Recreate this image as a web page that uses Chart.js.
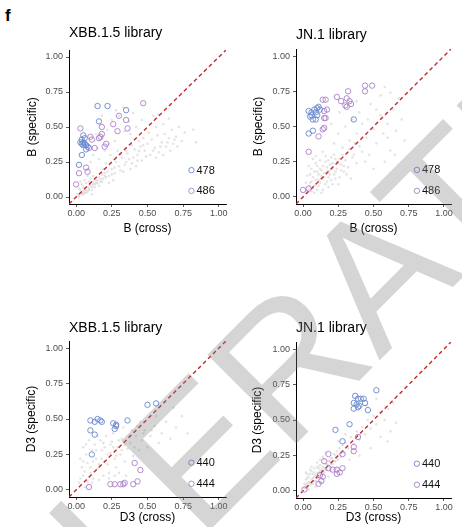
<!DOCTYPE html>
<html>
<head>
<meta charset="utf-8">
<script src="https://cdn.jsdelivr.net/npm/chart.js@4.4.1/dist/chart.umd.min.js"></script>
<style>
  body { margin: 0; background: #fff; }
  #wrap { position: relative; width: 462px; height: 527px; overflow: hidden; }
  #wrap canvas { position: absolute; }
  #tag { position: absolute; left: 5px; top: 6px; font: bold 17px "Liberation Sans", Arial, sans-serif; color: #000; }
</style>
</head>
<body>
<div id="wrap">
  <div id="tag">f</div>
  <canvas id="c1" width="231" height="263" style="left:0;top:0"></canvas>
  <canvas id="c2" width="231" height="263" style="left:231px;top:0"></canvas>
  <canvas id="c3" width="231" height="264" style="left:0;top:263px"></canvas>
  <canvas id="c4" width="231" height="264" style="left:231px;top:263px"></canvas>
  <canvas id="wm" width="462" height="527" style="left:0;top:0;pointer-events:none"></canvas>
</div>
<script>
// shared axis ticks
const tickValues = [0, 0.25, 0.5, 0.75, 1];
const tickLabels = ['0.00', '0.25', '0.50', '0.75', '1.00'];
const diagonal = [-0.05, 1.05];

// B epitope, XBB.1.5 library: [cross, specific]
const xbbB_478 = [[0.15,0.65],[0.22,0.65],[0.35,0.62],[0.16,0.54],[0.05,0.44],[0.04,0.41],[0.03,0.39],[0.05,0.39],
  [0.06,0.38],[0.05,0.37],[0.07,0.37],[0.08,0.36],[0.07,0.34],[0.04,0.30],[0.02,0.23],[0.06,0.42],[0.04,0.38]];
const xbbB_486 = [[0.47,0.67],[0.30,0.58],[0.35,0.55],[0.26,0.52],[0.18,0.50],[0.36,0.49],[0.29,0.47],[0.03,0.49],
  [0.10,0.43],[0.11,0.41],[0.17,0.43],[0.16,0.42],[0.21,0.38],[0.20,0.36],[0.09,0.35],[0.13,0.35],[0.07,0.21],
  [0.08,0.18],[0.02,0.17],[0.00,0.09],[0.18,0.45]];
const xbbB_all = [[0.01,0.02],[0.02,0.01],[0.03,0.03],[0.04,0.02],[0.05,0.04],[0.03,0.05],[0.06,0.03],[0.07,0.05],
  [0.08,0.04],[0.02,0.06],[0.05,0.07],[0.09,0.06],[0.10,0.08],[0.04,0.09],[0.07,0.10],[0.11,0.05],[0.12,0.09],
  [0.13,0.07],[0.06,0.12],[0.09,0.11],[0.14,0.10],[0.15,0.12],[0.10,0.13],[0.08,0.15],[0.16,0.08],[0.17,0.13],
  [0.12,0.15],[0.18,0.11],[0.03,0.11],[0.11,0.02],[0.20,0.15],[0.22,0.18],[0.25,0.20],[0.21,0.24],[0.27,0.17],
  [0.28,0.25],[0.30,0.22],[0.32,0.28],[0.24,0.30],[0.35,0.25],[0.36,0.31],[0.38,0.20],[0.40,0.28],[0.41,0.34],
  [0.43,0.30],[0.45,0.36],[0.46,0.26],[0.48,0.33],[0.50,0.38],[0.52,0.30],[0.53,0.41],[0.55,0.35],[0.57,0.44],
  [0.58,0.32],[0.60,0.39],[0.62,0.45],[0.63,0.36],[0.65,0.42],[0.67,0.48],[0.68,0.38],[0.70,0.43],[0.72,0.50],
  [0.74,0.40],[0.76,0.46],[0.84,0.39],[0.82,0.48],[0.33,0.18],[0.42,0.22],[0.47,0.42],[0.51,0.46],[0.56,0.50],
  [0.61,0.52],[0.44,0.40],[0.39,0.37],[0.29,0.33],[0.26,0.12],[0.19,0.20],[0.23,0.10],[0.12,0.30],[0.15,0.35],
  [0.18,0.42],[0.20,0.33],[0.22,0.48],[0.25,0.55],[0.28,0.62],[0.30,0.58],[0.33,0.64],[0.27,0.40],[0.23,0.38],
  [0.34,0.47],[0.37,0.54],[0.40,0.60],[0.42,0.50],[0.18,0.58],[0.14,0.45],[0.10,0.25],[0.08,0.20],[0.16,0.27],
  [0.46,0.55],[0.38,0.45],[0.54,0.58],[0.65,0.56],[0.58,0.59],[0.02,0.00],[0.04,0.03],[0.06,0.05],[0.08,0.07],
  [0.10,0.09],[0.12,0.11],[0.14,0.12],[0.16,0.14],[0.18,0.16],[0.20,0.17],[0.05,0.02],[0.07,0.03],[0.09,0.05],
  [0.11,0.07],[0.13,0.09],[0.15,0.10],[0.17,0.11],[0.19,0.13],[0.21,0.14],[0.23,0.15],[0.25,0.16],[0.27,0.21],
  [0.31,0.19],[0.34,0.23],[0.37,0.27],[0.39,0.24],[0.44,0.33],[0.49,0.29],[0.54,0.33],[0.59,0.36],[0.64,0.39],
  [0.69,0.41],[0.71,0.36],[0.66,0.33],[0.61,0.30],[0.56,0.28],[0.47,0.37],[0.43,0.26],[0.35,0.33],[0.31,0.30]];

// B epitope, JN.1 library
const jn1B_478 = [[0.04,0.61],[0.06,0.58],[0.05,0.57],[0.07,0.55],[0.09,0.55],[0.08,0.62],[0.10,0.63],[0.11,0.64],
  [0.12,0.62],[0.09,0.60],[0.06,0.60],[0.10,0.58],[0.36,0.55],[0.04,0.45],[0.07,0.47]];
const jn1B_486 = [[0.49,0.79],[0.44,0.79],[0.44,0.75],[0.32,0.75],[0.24,0.71],[0.27,0.68],[0.31,0.70],[0.33,0.68],
  [0.30,0.65],[0.31,0.64],[0.34,0.66],[0.14,0.69],[0.16,0.69],[0.17,0.62],[0.15,0.61],[0.15,0.56],[0.16,0.56],
  [0.15,0.49],[0.14,0.48],[0.11,0.43],[0.04,0.32],[0.00,0.05],[0.04,0.06]];
const jn1B_all = [[0.02,0.03],[0.04,0.06],[0.06,0.04],[0.05,0.10],[0.08,0.08],[0.10,0.05],[0.07,0.14],[0.09,0.12],
  [0.12,0.10],[0.11,0.16],[0.14,0.13],[0.13,0.19],[0.16,0.09],[0.15,0.17],[0.18,0.14],[0.17,0.21],[0.20,0.12],
  [0.19,0.19],[0.22,0.16],[0.21,0.24],[0.24,0.20],[0.26,0.14],[0.23,0.27],[0.27,0.23],[0.29,0.18],[0.03,0.15],
  [0.06,0.20],[0.09,0.24],[0.12,0.26],[0.08,0.03],[0.14,0.05],[0.18,0.07],[0.25,0.09],[0.30,0.26],[0.32,0.21],
  [0.34,0.13],[0.04,0.22],[0.10,0.18],[0.16,0.25],[0.20,0.28],[0.07,0.27],[0.02,0.10],[0.28,0.35],[0.33,0.40],
  [0.36,0.30],[0.38,0.45],[0.40,0.36],[0.42,0.52],[0.45,0.42],[0.47,0.30],[0.50,0.48],[0.52,0.38],[0.55,0.58],
  [0.57,0.45],[0.60,0.52],[0.62,0.33],[0.64,0.62],[0.66,0.47],[0.68,0.70],[0.70,0.55],[0.72,0.40],[0.58,0.78],
  [0.55,0.72],[0.48,0.66],[0.40,0.60],[0.35,0.55],[0.25,0.45],[0.22,0.38],[0.30,0.50],[0.44,0.25],[0.50,0.20],
  [0.58,0.25],[0.65,0.30],[0.62,0.74],[0.52,0.62],[0.46,0.55],[0.38,0.68],[0.26,0.60],[0.20,0.52],[0.60,0.42],
  [0.03,0.04],[0.05,0.08],[0.07,0.06],[0.09,0.09],[0.11,0.12],[0.13,0.15],[0.15,0.14],[0.17,0.18],[0.19,0.16],
  [0.21,0.20],[0.23,0.18],[0.25,0.24],[0.27,0.19],[0.29,0.22],[0.31,0.16],[0.06,0.11],[0.08,0.18],[0.10,0.22],
  [0.12,0.20],[0.14,0.22],[0.16,0.29],[0.18,0.26],[0.22,0.30],[0.24,0.25],[0.26,0.27],[0.28,0.30],[0.11,0.08],
  [0.13,0.03],[0.17,0.11],[0.21,0.09],[0.23,0.13],[0.19,0.23],[0.35,0.28],[0.38,0.24],[0.42,0.32],[0.05,0.16],
  [0.09,0.29],[0.14,0.32],[0.33,0.34],[0.37,0.38]];

// D3 epitope, XBB.1.5 library
const xbbD_440 = [[0.56,0.61],[0.50,0.60],[0.10,0.49],[0.13,0.48],[0.15,0.50],[0.17,0.49],[0.18,0.48],[0.36,0.49],
  [0.26,0.47],[0.28,0.46],[0.28,0.45],[0.27,0.43],[0.10,0.42],[0.13,0.39],[0.11,0.25]];
const xbbD_444 = [[0.41,0.19],[0.45,0.14],[0.43,0.06],[0.40,0.04],[0.34,0.05],[0.33,0.04],[0.31,0.04],[0.27,0.04],
  [0.24,0.04],[0.09,0.02]];
const xbbD_all = [[0.02,0.05],[0.05,0.10],[0.08,0.06],[0.04,0.16],[0.10,0.12],[0.12,0.20],[0.07,0.25],[0.15,0.15],
  [0.14,0.28],[0.18,0.22],[0.20,0.30],[0.17,0.35],[0.22,0.18],[0.24,0.26],[0.25,0.34],[0.27,0.22],[0.29,0.30],
  [0.31,0.25],[0.32,0.36],[0.34,0.20],[0.36,0.29],[0.38,0.33],[0.40,0.24],[0.42,0.38],[0.44,0.28],[0.46,0.35],
  [0.48,0.42],[0.50,0.30],[0.52,0.38],[0.55,0.45],[0.58,0.33],[0.60,0.40],[0.63,0.48],[0.66,0.36],[0.70,0.44],
  [0.74,0.52],[0.78,0.40],[0.05,0.30],[0.09,0.35],[0.11,0.05],[0.19,0.10],[0.23,0.08],[0.30,0.12],[0.35,0.10],
  [0.03,0.22],[0.13,0.32],[0.21,0.38],[0.26,0.40],[0.16,0.07],[0.33,0.44],[0.45,0.48],[0.56,0.52],[0.68,0.58],
  [0.06,0.02],[0.28,0.16],[0.03,0.08],[0.06,0.13],[0.08,0.19],[0.10,0.16],[0.12,0.08],[0.14,0.22],[0.16,0.18],
  [0.18,0.28],[0.20,0.20],[0.22,0.25],[0.24,0.32],[0.26,0.30],[0.28,0.24],[0.30,0.35],[0.32,0.28],[0.34,0.32],
  [0.07,0.32],[0.11,0.28],[0.15,0.38],[0.19,0.33],[0.23,0.12],[0.27,0.10],[0.05,0.20],[0.09,0.09],[0.37,0.38],
  [0.41,0.30],[0.47,0.40],[0.53,0.42],[0.39,0.42],[0.43,0.45]];

// D3 epitope, JN.1 library
const jn1D_440 = [[0.52,0.71],[0.37,0.67],[0.39,0.65],[0.41,0.65],[0.43,0.65],[0.36,0.62],[0.38,0.61],[0.40,0.60],
  [0.36,0.58],[0.39,0.59],[0.44,0.62],[0.46,0.57],[0.33,0.47],[0.23,0.43],[0.28,0.35]];
const jn1D_444 = [[0.39,0.38],[0.36,0.31],[0.36,0.28],[0.18,0.26],[0.28,0.26],[0.15,0.21],[0.18,0.16],[0.21,0.15],
  [0.24,0.15],[0.28,0.16],[0.26,0.13],[0.24,0.12],[0.12,0.11],[0.14,0.10],[0.13,0.07],[0.11,0.05],[0.01,0.01]];
const jn1D_all = [[0.01,0.02],[0.02,0.04],[0.03,0.02],[0.04,0.06],[0.05,0.04],[0.06,0.08],[0.07,0.05],[0.08,0.10],
  [0.09,0.07],[0.10,0.12],[0.11,0.09],[0.12,0.14],[0.13,0.11],[0.14,0.17],[0.15,0.13],[0.16,0.19],[0.17,0.15],
  [0.18,0.21],[0.19,0.17],[0.20,0.23],[0.21,0.19],[0.22,0.26],[0.23,0.21],[0.24,0.28],[0.25,0.22],[0.26,0.30],
  [0.27,0.24],[0.28,0.32],[0.29,0.27],[0.30,0.34],[0.05,0.12],[0.08,0.16],[0.10,0.20],[0.12,0.22],[0.03,0.09],
  [0.06,0.14],[0.14,0.24],[0.16,0.27],[0.09,0.03],[0.13,0.06],[0.18,0.10],[0.20,0.14],[0.24,0.16],[0.02,0.08],
  [0.07,0.12],[0.11,0.16],[0.04,0.01],[0.32,0.30],[0.34,0.38],[0.36,0.33],[0.38,0.42],[0.40,0.36],[0.42,0.45],
  [0.44,0.40],[0.46,0.50],[0.48,0.44],[0.50,0.53],[0.52,0.47],[0.55,0.55],[0.58,0.50],[0.60,0.58],[0.62,0.42],
  [0.64,0.62],[0.66,0.48],[0.55,0.38],[0.48,0.30],[0.40,0.25],[0.33,0.22],[0.60,0.35],[0.25,0.35],[0.30,0.40],
  [0.45,0.60],[0.52,0.65],[0.02,0.02],[0.03,0.05],[0.05,0.06],[0.06,0.05],[0.07,0.09],[0.08,0.07],[0.09,0.11],
  [0.10,0.09],[0.11,0.13],[0.12,0.11],[0.13,0.15],[0.14,0.14],[0.15,0.16],[0.16,0.15],[0.17,0.19],[0.18,0.18],
  [0.19,0.21],[0.20,0.19],[0.21,0.23],[0.22,0.21],[0.23,0.25],[0.24,0.23],[0.26,0.26],[0.28,0.28],[0.01,0.05],
  [0.03,0.12],[0.04,0.10],[0.06,0.17],[0.08,0.13],[0.02,0.13],[0.05,0.15],[0.10,0.17],[0.12,0.18],[0.15,0.22]];

const FONT = '"Liberation Sans", Arial, Helvetica, sans-serif';
const BLUE = '#6787cf';
const PURPLE = '#ad7fca';
const RED = '#c8262d';

const toPts = arr => arr.map(p => ({ x: p[0], y: p[1] }));

// small legend drawn inside the panel, like ggplot's legend.position = c(x, y)
const insetLegend = {
  id: 'insetLegend',
  afterDraw(chart, args, opts) {
    const { ctx, chartArea: a } = chart;
    ctx.save();
    chart.data.datasets.slice(0, 2).forEach((ds, i) => {
      const cx = a.left + opts.x * (a.right - a.left);
      const cy = a.top + opts.ys[i] * (a.bottom - a.top);
      ctx.beginPath();
      ctx.arc(cx, cy, 2.7, 0, Math.PI * 2);
      ctx.strokeStyle = ds.borderColor;
      ctx.lineWidth = 0.9;
      ctx.stroke();
      ctx.fillStyle = '#111';
      ctx.font = '11px ' + FONT;
      ctx.textBaseline = 'middle';
      ctx.fillText(ds.label, cx + 5, cy + 0.5);
    });
    ctx.restore();
  }
};

function axis(title, isX, size, titlePad) {
  return {
    type: 'linear',
    min: -0.05,
    max: 1.05,
    afterBuildTicks: s => { s.ticks = tickValues.map(v => ({ value: v })); },
    afterFit: s => { if (isX) s.height = size; else s.width = size; },
    ticks: {
      callback: (v, i) => tickLabels[i],
      color: '#4d4d4d',
      font: { size: 9, family: FONT },
      padding: isX ? 1 : 3,
      maxRotation: 0,
      autoSkip: false
    },
    grid: { drawOnChartArea: false, drawTicks: true, tickLength: 3, color: '#333', lineWidth: 0.8 },
    border: { display: true, color: '#000', width: 1 },
    title: {
      display: true,
      text: title,
      color: '#000',
      font: { size: 12, family: FONT },
      padding: isX ? { top: 0, bottom: titlePad } : { top: titlePad, bottom: 0 }
    }
  };
}

function makePanel(id, p) {
  new Chart(document.getElementById(id), {
    type: 'scatter',
    data: {
      datasets: [
        { label: p.names[0], data: toPts(p.siteA), pointRadius: 2.7, borderColor: BLUE,
          backgroundColor: 'rgba(0,0,0,0)', borderWidth: 0.9 },
        { label: p.names[1], data: toPts(p.siteB), pointRadius: 2.7, borderColor: PURPLE,
          backgroundColor: 'rgba(0,0,0,0)', borderWidth: 0.9 },
        { label: 'y = x', data: diagonal.map(v => ({ x: v, y: v })), showLine: true, borderColor: RED,
          borderWidth: 1.4, borderDash: [4, 3], pointRadius: 0 },
        { label: 'other sites', data: toPts(p.others), pointRadius: 1.3, borderWidth: 0,
          backgroundColor: 'rgba(210,210,210,0.6)' }
      ]
    },
    options: {
      responsive: false,
      animation: false,
      devicePixelRatio: 1,
      layout: { padding: { left: 0, right: p.padRight, top: 0, bottom: 0 } },
      plugins: {
        legend: { display: false },
        tooltip: { enabled: false },
        title: {
          display: true, text: p.title, align: 'start', fullSize: false, color: '#000',
          font: { size: 14, family: FONT, weight: 'normal' },
          padding: { top: p.titleTop, bottom: p.titleBottom }
        },
        insetLegend: { x: 0.78, ys: [0.78, 0.915] }
      },
      scales: {
        x: axis(p.xTitle, true, p.xHeight, p.xTitlePad),
        y: axis(p.yTitle, false, p.yWidth, p.yTitlePad)
      }
    },
    plugins: [insetLegend]
  });
}

makePanel('c1', { title: 'XBB.1.5 library', names: ['478', '486'], siteA: xbbB_478, siteB: xbbB_486, others: xbbB_all,
  xTitle: 'B (cross)', yTitle: 'B (specific)', padRight: 5, titleTop: 25, titleBottom: 8.2,
  xHeight: 59, xTitlePad: 26.8, yWidth: 69, yTitlePad: 25.8 });
makePanel('c2', { title: 'JN.1 library', names: ['478', '486'], siteA: jn1B_478, siteB: jn1B_486, others: jn1B_all,
  xTitle: 'B (cross)', yTitle: 'B (specific)', padRight: 11, titleTop: 26.6, titleBottom: 5.6,
  xHeight: 59, xTitlePad: 26.8, yWidth: 65, yTitlePad: 20.8 });
makePanel('c3', { title: 'XBB.1.5 library', names: ['440', '444'], siteA: xbbD_440, siteB: xbbD_444, others: xbbD_all,
  xTitle: 'D3 (cross)', yTitle: 'D3 (specific)', padRight: 5, titleTop: 56.6, titleBottom: 4.6,
  xHeight: 30, xTitlePad: 1.8, yWidth: 69, yTitlePad: 24.8 });
makePanel('c4', { title: 'JN.1 library', names: ['440', '444'], siteA: jn1D_440, siteB: jn1D_444, others: jn1D_all,
  xTitle: 'D3 (cross)', yTitle: 'D3 (specific)', padRight: 11, titleTop: 56.6, titleBottom: 5.6,
  xHeight: 29, xTitlePad: 1.8, yWidth: 65, yTitlePad: 19.8 });

// preview watermark across the figure
const wm = document.getElementById('wm').getContext('2d');
wm.save();
wm.translate(-232, 972);
wm.rotate(-Math.PI / 4);
wm.fillStyle = 'rgba(128,128,128,0.33)';
wm.font = '183px ' + FONT;
wm.fillText('ACCELERATED ARTICLE PREVIEW', 0, 0);
wm.restore();
</script>
</body>
</html>
